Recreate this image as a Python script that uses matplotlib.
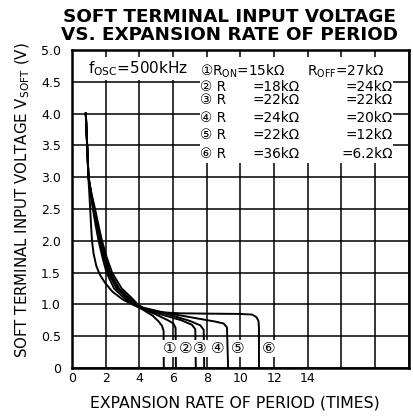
import numpy as np
import matplotlib
matplotlib.use('Agg')
import matplotlib.pyplot as plt
from matplotlib.patches import Rectangle

plt.rcParams['font.family'] = ['DejaVu Sans', 'Noto Sans CJK JP']

# curve data (expansion rate, V_SOFT)
x1 = [0.82, 0.90, 0.98, 1.10, 1.24, 1.40, 1.58, 1.80, 2.05, 2.50, 3.10, 3.60, 4.20, 4.80, 5.15, 5.35, 5.44, 5.45]
y1 = [4.00, 3.50, 3.00, 2.75, 2.50, 2.25, 2.00, 1.75, 1.50, 1.25, 1.10, 1.00, 0.92, 0.82, 0.73, 0.66, 0.58, 0.00]
x2 = [0.82, 0.90, 0.98, 1.12, 1.28, 1.45, 1.65, 1.88, 2.15, 2.65, 3.25, 3.70, 4.20, 5.00, 5.70, 6.02, 6.15, 6.17]
y2 = [4.00, 3.50, 3.00, 2.75, 2.50, 2.25, 2.00, 1.75, 1.50, 1.25, 1.10, 1.00, 0.93, 0.84, 0.75, 0.70, 0.63, 0.00]
x3 = [0.82, 0.90, 0.98, 1.14, 1.33, 1.52, 1.72, 1.97, 2.27, 2.80, 3.40, 3.80, 4.20, 5.20, 6.50, 7.12, 7.32, 7.35]
y3 = [4.00, 3.50, 3.00, 2.75, 2.50, 2.25, 2.00, 1.75, 1.50, 1.25, 1.10, 1.00, 0.94, 0.85, 0.75, 0.68, 0.61, 0.00]
x4 = [0.82, 0.90, 0.98, 1.15, 1.37, 1.57, 1.78, 2.05, 2.38, 2.95, 3.55, 3.90, 4.25, 5.50, 7.00, 7.62, 7.82, 7.85]
y4 = [4.00, 3.50, 3.00, 2.75, 2.50, 2.25, 2.00, 1.75, 1.50, 1.25, 1.10, 1.00, 0.94, 0.86, 0.74, 0.67, 0.60, 0.00]
x5 = [0.82, 0.90, 0.98, 1.13, 1.30, 1.48, 1.70, 1.93, 2.22, 2.72, 3.30, 3.80, 4.20, 5.50, 7.00, 8.50, 9.00, 9.20, 9.27]
y5 = [4.00, 3.50, 3.00, 2.75, 2.50, 2.25, 2.00, 1.75, 1.50, 1.25, 1.10, 1.00, 0.95, 0.87, 0.80, 0.73, 0.70, 0.64, 0.00]
x6 = [0.82, 0.90, 0.97, 1.03, 1.08, 1.13, 1.19, 1.28, 1.45, 1.65, 1.96, 2.40, 3.05, 3.60, 4.10, 5.00, 6.40, 8.00, 10.0, 10.7, 10.95, 11.07, 11.10, 11.10]
y6 = [4.00, 3.50, 3.00, 2.75, 2.50, 2.25, 2.00, 1.80, 1.60, 1.47, 1.34, 1.20, 1.07, 1.00, 0.95, 0.88, 0.86, 0.855, 0.85, 0.84, 0.80, 0.74, 0.64, 0.00]

curves = [(x1, y1), (x2, y2), (x3, y3), (x4, y4), (x5, y5), (x6, y6)]
marks = ['\u2460', '\u2461', '\u2462', '\u2463', '\u2464', '\u2465']
mark_x = [5.8, 6.75, 7.6, 8.65, 9.85, 11.65]
mark_y = 0.31

r_on = ['15', '18', '22', '24', '22', '36']
r_off = ['27', '24', '22', '20', '12', '6.2']

fig = plt.figure(figsize=(4.13, 4.19), dpi=100)
ax = fig.add_axes([0.1743, 0.1217, 0.8157, 0.759])

ax.set_xlim(0, 20)
ax.set_ylim(0, 5)
ax.set_xticks(np.arange(0, 21, 2))
ax.set_xticklabels(['0', '2', '4', '6', '8', '10', '12', '14', '', '', ''])
ax.set_yticks(np.arange(0, 5.01, 0.5))
ax.set_yticklabels(['0', '0.5', '1.0', '1.5', '2.0', '2.5', '3.0', '3.5', '4.0', '4.5', '5.0'])
ax.tick_params(length=0, labelsize=9)
ax.tick_params(axis='x', pad=3)
ax.tick_params(axis='y', pad=8)
ax.grid(True, color='black', lw=1.1)
ax.set_axisbelow(True)
for s in ax.spines.values():
    s.set_linewidth(1.8)

# white panels behind the annotations
ax.add_patch(Rectangle((0, 0.906), 0.38, 0.072, transform=ax.transAxes,
                       facecolor='white', edgecolor='none', zorder=1.5))
ax.add_patch(Rectangle((0.38, 0.645), 0.573, 0.333, transform=ax.transAxes,
                       facecolor='white', edgecolor='none', zorder=1.5))

for (xs, ys) in curves:
    ax.plot(xs, ys, color='black', lw=1.4, zorder=3, solid_joinstyle='round')

for m, mx in zip(marks, mark_x):
    ax.text(mx, mark_y, m, ha='center', va='center', fontsize=11,
            zorder=4, bbox=dict(facecolor='white', edgecolor='none', pad=0.5))

ax.text(0.95, 4.70, 'f$_{\\mathrm{OSC}}$=500kHz', fontsize=11, va='center', zorder=4)

row_y = [4.67, 4.42, 4.21, 3.93, 3.66, 3.37]
ax.text(7.6, row_y[0], marks[0] + 'R$_{\\mathrm{ON}}$=' + r_on[0] + 'k\u03a9',
        fontsize=9.8, va='center', zorder=4)
ax.text(13.95, row_y[0], 'R$_{\\mathrm{OFF}}$=' + r_off[0] + 'k\u03a9',
        fontsize=9.8, va='center', zorder=4)
for i in range(1, 6):
    ax.text(7.6, row_y[i], marks[i] + ' R', fontsize=9.8, va='center', zorder=4)
    ax.text(13.5, row_y[i], '=' + r_on[i] + 'k\u03a9', fontsize=9.8,
            va='center', ha='right', zorder=4)
    ax.text(19.05, row_y[i], '=' + r_off[i] + 'k\u03a9', fontsize=9.8,
            va='center', ha='right', zorder=4)

fig.text(0.555, 0.938, 'SOFT TERMINAL INPUT VOLTAGE\nVS. EXPANSION RATE OF PERIOD',
         ha='center', va='center', fontsize=13.2, fontweight='bold', linespacing=0.95)
fig.text(0.569, 0.038, 'EXPANSION RATE OF PERIOD (TIMES)', ha='center', va='center',
         fontsize=11.3)
fig.text(0.056, 0.523, 'SOFT TERMINAL INPUT VOLTAGE V$_{\\mathrm{SOFT}}$ (V)',
         ha='center', va='center', rotation=90, fontsize=10.8)

fig.savefig('out.png', dpi=100)
